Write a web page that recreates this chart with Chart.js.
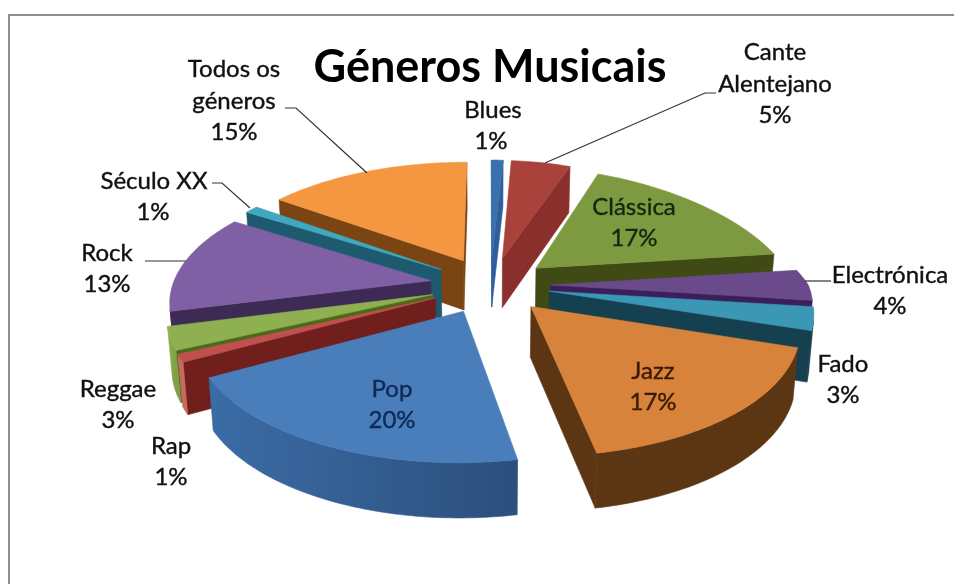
<!DOCTYPE html>
<html lang="pt">
<head>
<meta charset="utf-8">
<title>Géneros Musicais</title>
<script src="https://cdn.jsdelivr.net/npm/chart.js@4"></script>
<style>
html,body{margin:0;padding:0;background:#fff;overflow:hidden}
#wrap{position:relative;width:954px;height:584px}
#frame{position:absolute;left:8px;top:14px;right:-4px;bottom:-4px;border:2px solid #8f8f8f;box-sizing:border-box}
canvas{position:absolute;left:0;top:0}
</style>
</head>
<body>
<div id="wrap"><div id="frame"></div><canvas id="pie" width="954" height="584"></canvas></div>
<script>
const generos = ['Blues','Cante Alentejano','Clássica','Electrónica','Fado','Jazz','Pop','Rap','Reggae','Rock','Século XX','Todos os géneros'];
const percent = [1,5,17,4,3,17,20,1,3,13,1,15];

const topColors = ['#3a70ad','#a8423a','#7d9a40','#6a4a8a','#3a98b5','#d7833b','#4a7ebb','#c0504d','#8fb050','#8060a5','#40a8c0','#f59640'];
const wallColors = ['#2f5f9a','#8a2f2c','#3f4a15','#3a1f5a','#154050','#5c3612','#2c5485','#701f1c','#4a6a1a','#3d2a55','#1d5a70','#7a4512'];
const rimLeft = ['#2f5f9a','#8a2f2c','#3f4a15','#3a1f5a','#154050','#5c3612','#3b6ca6','#c66a60','#8fb050','#3d2a55','#1d5a70','#7a4512'];
const rimRight = ['#2f5f9a','#8a2f2c','#3f4a15','#3a1f5a','#154050','#5c3612','#2c4f7c','#c66a60','#7f9f45','#3d2a55','#1d5a70','#7a4512'];

// name lines of each label, the percentage goes on the line after them
const labelLines = [
  ['Blues'],['Cante','Alentejano'],['Clássica'],['Electrónica'],['Fado'],['Jazz'],
  ['Pop'],['Rap'],['Reggae'],['Rock'],['Século XX'],['Todos os','géneros']
];
const labelAt = [[493,110],[775,52],[634,207],[890,275],[843,364],[653,371],[392,389],[171,446],[118,389],[107,253],[154,181],[234,69]];
const percentShift = [-2,0,0,0,0,0,0,0,0,0,-1,0];
const labelInk = ['#111','#111','#102a10','#111','#111','#3a1a05','#0f2a55','#111','#111','#111','#111','#111'];
const leaders = [
  [[716,93],[705,93],[545,163]],
  [[805,281],[831,281]],
  [[145,261],[186,261]],
  [[212,183],[222,183],[250,208]],
  [[285,108],[296,108],[367,173]]
];

// view of the tilted pie
const view = {cx:490, cy:285, a:258, b:120, k:0.15, pull:25, depth:50, squeeze:0.985};

function project(u, v, low){
  const s = 1/(1 + view.k*v);
  const f = low ? view.squeeze : 1;
  const pull = view.pull*Math.max(u,0)*Math.max(v,0);   // back right quarter recedes faster
  return [view.cx + (view.a*u*s - pull)*f, view.cy - view.b*v*s + (low ? view.depth*Math.sqrt(s) : 0)];
}

function fillPoly(ctx, pts, fill){
  ctx.beginPath();
  pts.forEach((p,i)=> i ? ctx.lineTo(p[0],p[1]) : ctx.moveTo(p[0],p[1]));
  ctx.closePath();
  ctx.fillStyle = fill;
  ctx.strokeStyle = fill;
  ctx.lineWidth = 0.6;
  ctx.fill();
  ctx.stroke();
}

function area(pts){
  let t = 0;
  pts.forEach((p,i)=>{const q = pts[(i+1)%pts.length]; t += p[0]*q[1]-q[0]*p[1];});
  return t/2;
}

function drawSlice(ctx, arc, i){
  const {startAngle, endAngle, outerRadius} = arc.getProps(['startAngle','endAngle','outerRadius']);
  const mid = (startAngle+endAngle)/2;
  const e = arc.options.offset/outerRadius;
  const tipU = e*Math.cos(mid), tipV = -e*Math.sin(mid);
  const steps = Math.max(4, Math.ceil((endAngle-startAngle)/0.02));
  const rim = [];
  for(let n=0;n<=steps;n++){
    const t = startAngle + (endAngle-startAngle)*n/steps;
    rim.push([tipU+Math.cos(t), tipV-Math.sin(t)]);
  }
  const P = (q,low)=>project(q[0],q[1],low);
  const tip = [tipU,tipV];
  const first = rim[0], last = rim[steps];

  // radial cuts, only the ones facing the viewer
  const startWall = [P(tip),P(first),P(first,true),P(tip,true)];
  const endWall = [P(tip),P(last),P(last,true),P(tip,true)];
  if(area(startWall) < 0) fillPoly(ctx,startWall,wallColors[i]);
  if(area(endWall) > 0) fillPoly(ctx,endWall,wallColors[i]);

  // outer curved side, filled as one shape per visible run
  const xs = rim.map(q=>P(q)[0]);
  const grad = ctx.createLinearGradient(Math.min(...xs),0,Math.max(...xs)+0.01,0);
  grad.addColorStop(0,rimLeft[i]);
  grad.addColorStop(1,rimRight[i]);
  let run = [];
  const flush = ()=>{
    if(run.length > 1) fillPoly(ctx,[...run.map(q=>P(q)),...run.slice().reverse().map(q=>P(q,true))],grad);
    run = [];
  };
  for(let n=0;n<steps;n++){
    const quad = [P(rim[n]),P(rim[n+1]),P(rim[n+1],true),P(rim[n],true)];
    if(area(quad) < 0){
      if(!run.length) run.push(rim[n]);
      run.push(rim[n+1]);
    } else flush();
  }
  flush();

  // top face
  fillPoly(ctx,[P(tip),...rim.map(q=>P(q))],topColors[i]);
}

const solidPie = {
  id:'solidPie',
  beforeDatasetDraw(chart, args){
    const ctx = chart.ctx;
    const arcs = args.meta.data;
    // back to front, so nearer slices cover the ones behind
    const order = arcs.map((arc,i)=>{
      const m = (arc.startAngle+arc.endAngle)/2;
      return {arc, i, depth:-Math.sin(m)};
    }).sort((p,q)=>q.depth-p.depth);
    ctx.save();
    order.forEach(o=>drawSlice(ctx,o.arc,o.i));
    ctx.restore();
    return false;
  },
  afterDraw(chart){
    const ctx = chart.ctx;
    ctx.save();
    ctx.strokeStyle = '#333';
    ctx.lineWidth = 1.2;
    leaders.forEach(line=>{
      ctx.beginPath();
      line.forEach((p,i)=> i ? ctx.lineTo(p[0],p[1]) : ctx.moveTo(p[0],p[1]));
      ctx.stroke();
    });
    ctx.font = '24px Lato, "Open Sans", sans-serif';
    ctx.textAlign = 'center';
    ctx.textBaseline = 'middle';
    ctx.lineWidth = 0.4;
    const put = (txt,x,y)=>{ ctx.fillText(txt,x,y); ctx.strokeText(txt,x,y); };
    labelLines.forEach((lines,i)=>{
      ctx.fillStyle = ctx.strokeStyle = labelInk[i];
      const [x,y] = labelAt[i];
      lines.forEach((txt,n)=>put(txt,x,y+n*32));
      put(percent[i]+'%',x+percentShift[i],y+lines.length*31.5);
    });
    ctx.restore();
  }
};

new Chart(document.getElementById('pie'),{
  type:'pie',
  data:{labels:generos,datasets:[{data:percent,backgroundColor:topColors,offset:45,borderWidth:0}]},
  options:{
    responsive:false,
    animation:false,
    layout:{padding:{top:40,bottom:60,left:73,right:47}},
    plugins:{
      legend:{display:false},
      tooltip:{enabled:false},
      title:{display:true,text:'Géneros Musicais',color:'#000',font:{family:'Lato, "Open Sans", sans-serif',size:45,weight:'bold'},padding:0,position:'top'}
    }
  },
  plugins:[solidPie]
});
</script>
</body>
</html>
